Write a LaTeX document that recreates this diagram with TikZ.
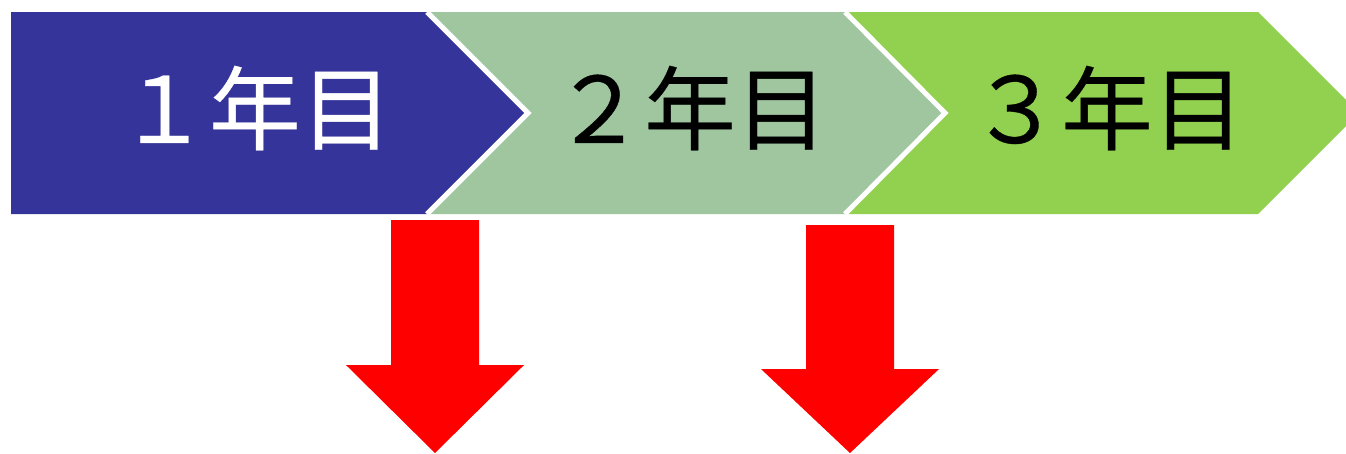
\documentclass[tikz,border=0pt]{standalone}
\usepackage{fontspec}
\newfontfamily\cjk[FakeBold=0.4]{Noto Sans CJK JP}
\usetikzlibrary{positioning}
\definecolor{yearone}{HTML}{35349A}
\definecolor{yeartwo}{HTML}{A0C6A0}
\definecolor{yearthree}{HTML}{92D050}
\tikzset{
yearband/.style={
	  fill, draw=none},
notchline/.style={
	  draw=white, line width=0.05cm, line join=miter},
downarrow/.style={
	  fill=red, draw=none},
yearlabel/.style={
	  font=\cjk\fontsize{26}{30}\selectfont, inner sep=0pt}
}

\begin{document}
\begin{tikzpicture}[x=0.01cm, y=-0.01cm]
	\useasboundingbox (0,0) rectangle (1346,453);
	\clip (0,0) rectangle (1346,453);
	\path[yearband, yearone] (11,12) -- (427,12) -- (528,113) -- (427,214) -- (11,214) -- cycle;
	\path[yearband, yeartwo] (427,12) -- (845,12) -- (945,113) -- (845,214) -- (427,214) -- (528,113) -- cycle;
	\path[yearband, yearthree] (845,12) -- (1258,12) -- (1359,113) -- (1258,214) -- (845,214) -- (945,113) -- cycle;
	\draw[notchline] (427,12) -- (528,113) -- (427,214);
	\draw[notchline] (845,12) -- (945,113) -- (845,214);
	\node[yearlabel, text=white] (y1) at (255,108) {１年目};
	\node[yearlabel] (y2) at (690,108) {２年目};
	\node[yearlabel] (y3) at (1107,108) {３年目};
	\path[downarrow] (391,220) -- (479,220) -- (479,365) -- (524,365) -- (435,453)
		-- (346,365) -- (391,365) -- cycle;
	\path[downarrow] (806,225) -- (894,225) -- (894,369) -- (939,369) -- (850,453)
		-- (761,369) -- (806,369) -- cycle;
\end{tikzpicture}
\end{document}
